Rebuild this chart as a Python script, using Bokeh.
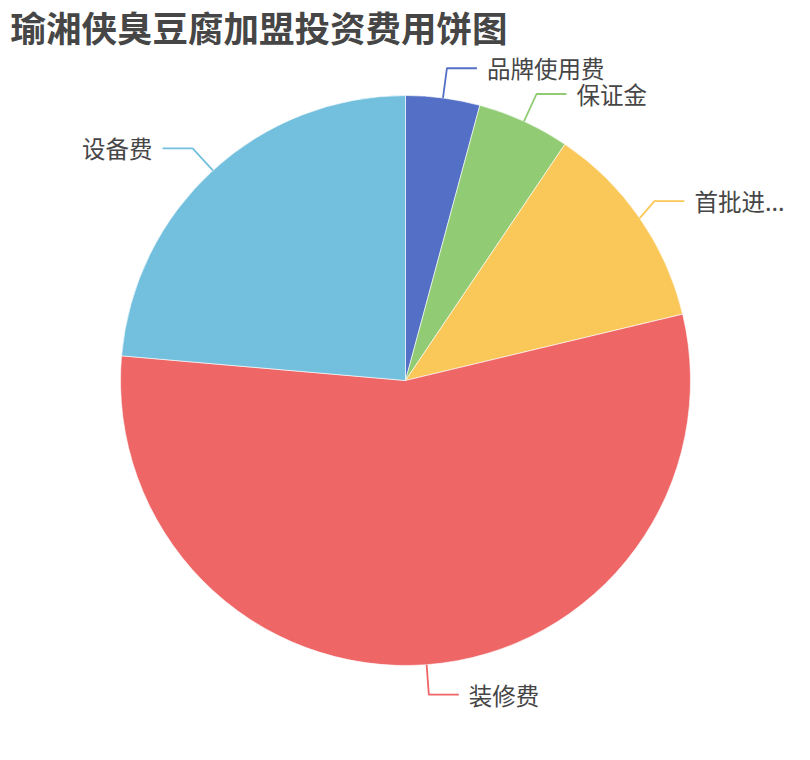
import numpy as np
from bokeh.plotting import figure, ColumnDataSource
from bokeh.models import Range1d, Label
from bokeh.core.properties import value
from bokeh.embed import file_html
from bokeh.resources import INLINE

# data (万元)
names = ['品牌使用费', '保证金', '首批进货费', '装修费', '设备费']
amounts = [1.6, 2.0, 4.5, 21.0, 9.0]
colors = ['#5470c6', '#91cc75', '#fac858', '#ee6666', '#73c0de']

W, H = 794, 744
cx, cy = 405, H - 380   # pie centre (y axis points up)
R = 285
LEN1, LEN2, GAP = 30, 30, 10
FONT = 'Noto Sans CJK SC'
LABEL_SIZE = 23.5
RIGHT_EDGE = 800

frac = np.array(amounts) / sum(amounts)
cum = np.concatenate([[0], np.cumsum(frac)])
start = np.pi / 2 - 2 * np.pi * cum[:-1]
end = np.pi / 2 - 2 * np.pi * cum[1:]

p = figure(width=W, height=H, x_range=Range1d(0, W), y_range=Range1d(0, H),
           x_axis_type=None, y_axis_type=None, toolbar_location=None,
           output_backend="svg", min_border=0)
p.outline_line_color = None
p.grid.visible = False
p.background_fill_color = None

src = ColumnDataSource(data=dict(name=names, amount=amounts, color=colors,
                                 start=start, end=end))
p.wedge(x=cx, y=cy, radius=R, radius_units='screen', start_angle='start', end_angle='end',
        direction='clock', fill_color='color', line_color='white', line_width=0.6, source=src)

# label lines and labels
for i, name in enumerate(names):
    mid = 2 * np.pi * (cum[i] + cum[i + 1]) / 2   # clockwise from top
    s, c = np.sin(mid), np.cos(mid)
    x0, y0 = cx + R * s, cy + R * c
    x1, y1 = cx + (R + LEN1) * s, cy + (R + LEN1) * c
    right = s >= 0
    text = name
    if right and x1 + LEN2 + GAP + len(name) * LABEL_SIZE > RIGHT_EDGE:
        # label too long: pull the line in and truncate like echarts
        x1 -= 10
        avail = RIGHT_EDGE - (x1 + LEN2 + GAP)
        n = int((avail - 20) // LABEL_SIZE)
        text = name[:n] + '...'
    x2 = x1 + LEN2 if right else x1 - LEN2
    tx = x2 + GAP if right else x2 - GAP
    p.line([x0, x1, x2], [y0, y1, y1], line_color=colors[i], line_width=1.8)
    p.text(x=[tx], y=[y1], text=[text], text_font=value(FONT), text_font_size=f'{LABEL_SIZE}px',
           text_color='#464646', text_align='left' if right else 'right', text_baseline='middle')

title = Label(x=10, y=H - 0.5, x_units='data', y_units='data', text='瑜湘侠臭豆腐加盟投资费用饼图',
              text_font=FONT, text_font_size='35.5px', text_font_style='bold',
              text_color='#464646', text_baseline='top', text_align='left')
p.add_layout(title)

open("out.html", "w").write(file_html(p, INLINE))
